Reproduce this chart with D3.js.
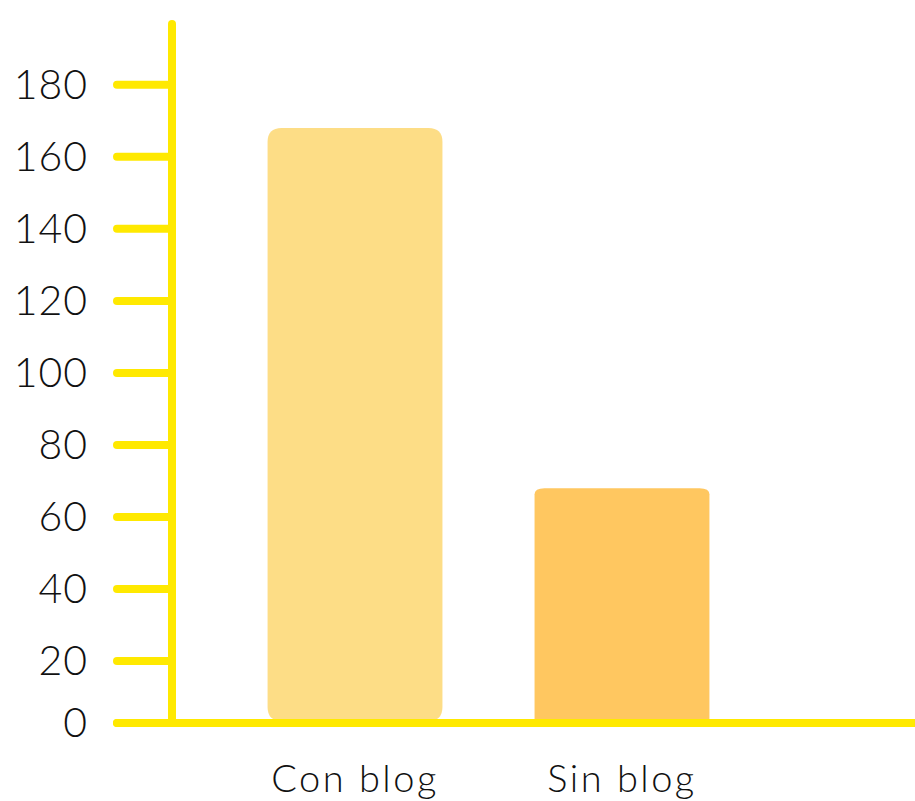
<!DOCTYPE html>
<html>
<head>
<meta charset="utf-8">
<script src="https://cdn.jsdelivr.net/npm/d3@7"></script>
<style>
  html, body { margin: 0; padding: 0; background: #fff; }
  svg { display: block; }
  text { font-family: Lato, "Open Sans", sans-serif; font-weight: 300; fill: #111; }
</style>
</head>
<body>
<div id="chart"></div>
<script>
var categories = ["Con blog", "Sin blog"];
var values = [168, 68];
var tickValues = [0, 20, 40, 60, 80, 100, 120, 140, 160, 180];

var axisColor = "#ffe900";
var barColors = ["#fddd86", "#ffc760"];

var svg = d3.select("#chart")
  .append("svg")
  .attr("width", 915)
  .attr("height", 801);

// zero sits a bit higher than the regular 20-step spacing in the original
var y = d3.scaleLinear()
  .domain([0, 20, 198])
  .range([723, 661, 20]);

var x = d3.scaleBand()
  .domain(categories)
  .range([172, 805])
  .paddingInner(0.345)
  .paddingOuter(0.358);

var axisX = 172;

// bars
var topPath = function(x0, w, yTop, yBot, rx, ry) {
  return "M" + x0 + "," + yBot +
    " L" + x0 + "," + (yTop + ry) +
    " Q" + x0 + "," + yTop + " " + (x0 + rx) + "," + yTop +
    " L" + (x0 + w - rx) + "," + yTop +
    " Q" + (x0 + w) + "," + yTop + " " + (x0 + w) + "," + (yTop + ry) +
    " L" + (x0 + w) + "," + yBot + " Z";
};

svg.selectAll(".bar")
  .data(categories)
  .enter()
  .append("path")
  .attr("class", "bar")
  .attr("fill", function(d, i) { return barColors[i]; })
  .attr("d", function(d, i) {
    var x0 = x(d), w = x.bandwidth();
    var yTop = y(values[i]), yBot = y(0) - 2;
    if (i === 0) {
      // fully rounded box
      var r = 14;
      return "M" + (x0 + r) + "," + yTop +
        " L" + (x0 + w - r) + "," + yTop +
        " Q" + (x0 + w) + "," + yTop + " " + (x0 + w) + "," + (yTop + r) +
        " L" + (x0 + w) + "," + (yBot - r) +
        " Q" + (x0 + w) + "," + yBot + " " + (x0 + w - r) + "," + yBot +
        " L" + (x0 + r) + "," + yBot +
        " Q" + x0 + "," + yBot + " " + x0 + "," + (yBot - r) +
        " L" + x0 + "," + (yTop + r) +
        " Q" + x0 + "," + yTop + " " + (x0 + r) + "," + yTop + " Z";
    }
    return topPath(x0, w, yTop, y(0), 10, 6);
  });

// tick marks
svg.selectAll(".tick")
  .data(tickValues)
  .enter()
  .append("line")
  .attr("class", "tick")
  .attr("x1", 117)
  .attr("x2", axisX)
  .attr("y1", function(d) { return y(d); })
  .attr("y2", function(d) { return y(d); })
  .attr("stroke", axisColor)
  .attr("stroke-width", 8)
  .attr("stroke-linecap", "round");

// y axis line
svg.append("line")
  .attr("x1", axisX)
  .attr("x2", axisX)
  .attr("y1", y(198) + 4)
  .attr("y2", y(0))
  .attr("stroke", axisColor)
  .attr("stroke-width", 8)
  .attr("stroke-linecap", "round");

// x axis line
svg.append("line")
  .attr("x1", 117)
  .attr("x2", 920)
  .attr("y1", y(0))
  .attr("y2", y(0))
  .attr("stroke", axisColor)
  .attr("stroke-width", 8)
  .attr("stroke-linecap", "round");

// tick labels
svg.selectAll(".ylabel")
  .data(tickValues)
  .enter()
  .append("text")
  .attr("class", "ylabel")
  .attr("x", 88)
  .attr("y", function(d) { return y(d); })
  .attr("dy", "0.35em")
  .attr("text-anchor", "end")
  .style("font-size", "41px")
  .style("letter-spacing", "1px")
  .text(function(d) { return d; });

svg.selectAll(".xlabel")
  .data(categories)
  .enter()
  .append("text")
  .attr("class", "xlabel")
  .attr("x", function(d) { return x(d) + x.bandwidth() / 2; })
  .attr("y", 792)
  .attr("text-anchor", "middle")
  .style("font-size", "38px")
  .style("letter-spacing", "2.5px")
  .text(function(d) { return d; });
</script>
</body>
</html>
